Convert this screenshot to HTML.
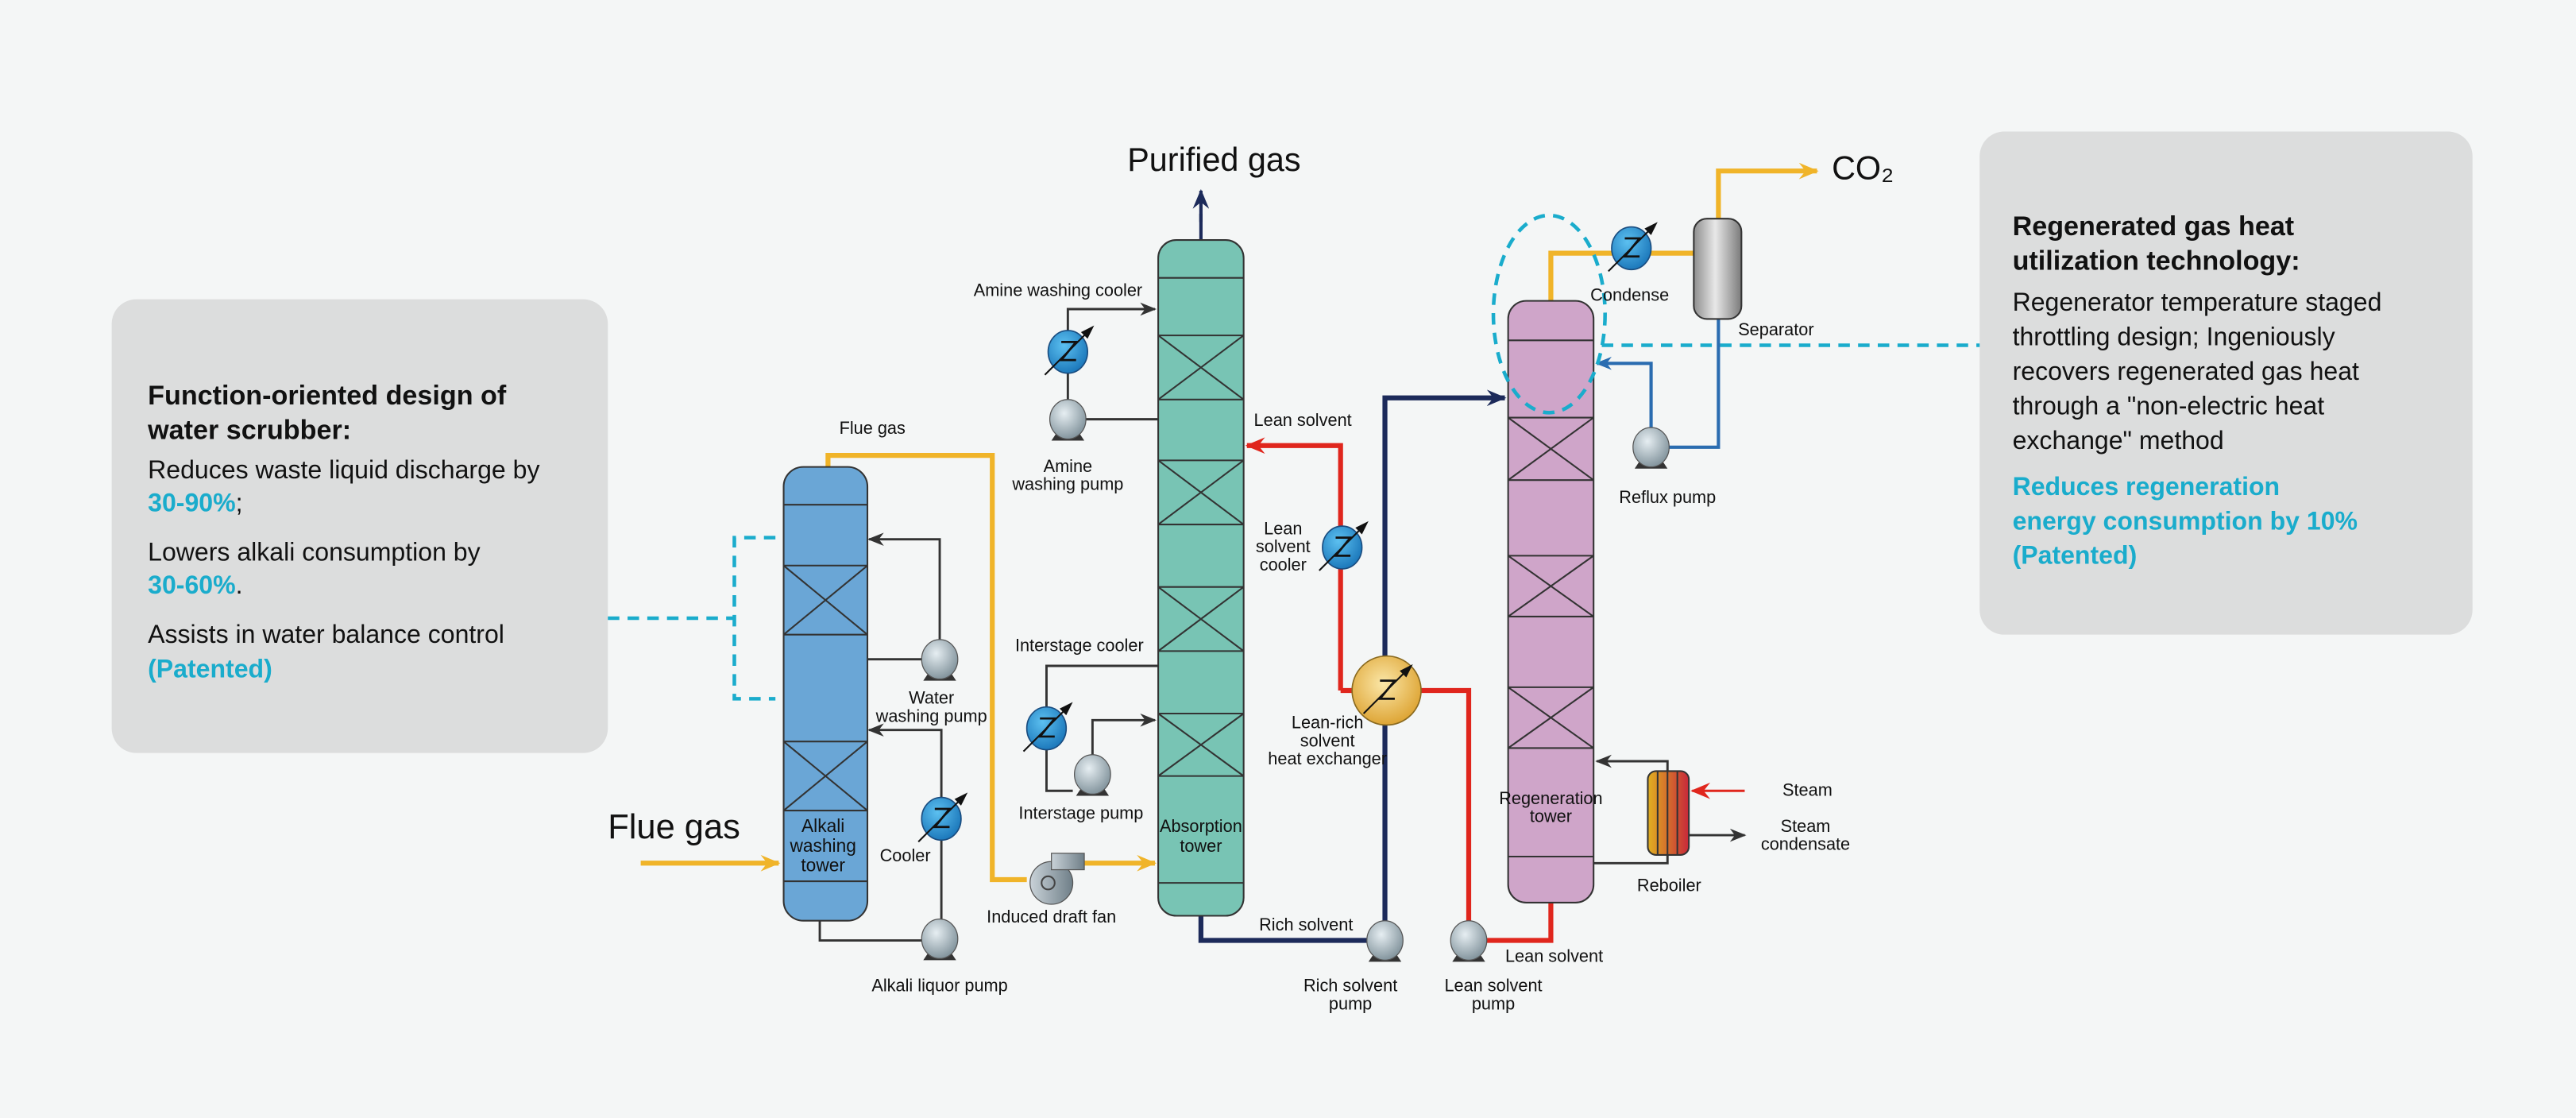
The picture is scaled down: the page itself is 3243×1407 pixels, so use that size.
<!DOCTYPE html>
<html><head><meta charset="utf-8"><style>
html,body{margin:0;padding:0;background:#f4f6f6;}
svg{display:block;}
text{font-family:"Liberation Sans",sans-serif;fill:#111;}
.s{font-size:10.5px;}
.c{text-anchor:middle;}
.bt{font-size:16.5px;font-weight:bold;}
.rt{font-size:15.5px;}
.cy{fill:#1aaccc;font-weight:bold;font-size:15.5px;}
</style></head><body>
<svg width="3243" height="1407" viewBox="0 0 1568 680" preserveAspectRatio="none" xmlns="http://www.w3.org/2000/svg">
<defs>
<radialGradient id="pg" cx="40%" cy="35%" r="70%"><stop offset="0" stop-color="#e6eef2"/><stop offset="1" stop-color="#7d8f98"/></radialGradient>
<radialGradient id="cg" cx="40%" cy="35%" r="70%"><stop offset="0" stop-color="#5cc0f0"/><stop offset="1" stop-color="#1874b8"/></radialGradient>
<radialGradient id="hg" cx="45%" cy="40%" r="70%"><stop offset="0" stop-color="#fbe7a8"/><stop offset="1" stop-color="#d99a22"/></radialGradient>
<linearGradient id="sg" x1="0" x2="1"><stop offset="0" stop-color="#8e8e8e"/><stop offset="0.45" stop-color="#e8e8e8"/><stop offset="1" stop-color="#7a7a7a"/></linearGradient>
<linearGradient id="rg" x1="0" x2="1"><stop offset="0" stop-color="#e0b020"/><stop offset="1" stop-color="#c8283a"/></linearGradient>
<linearGradient id="fg" x1="0" x2="1"><stop offset="0" stop-color="#c9d2d8"/><stop offset="1" stop-color="#6f7f88"/></linearGradient>
<marker id="ak" markerWidth="10" markerHeight="8" refX="9" refY="4" orient="auto" markerUnits="userSpaceOnUse"><path d="M0,0 L10,4 L0,8 L3,4 Z" fill="#333"/></marker>
<marker id="ay" markerWidth="12" markerHeight="10" refX="11" refY="5" orient="auto" markerUnits="userSpaceOnUse"><path d="M0,0 L12,5 L0,10 L4,5 Z" fill="#f0b429"/></marker>
<marker id="ar" markerWidth="12" markerHeight="10" refX="11" refY="5" orient="auto" markerUnits="userSpaceOnUse"><path d="M0,0 L12,5 L0,10 L4,5 Z" fill="#e0261d"/></marker>
<marker id="an" markerWidth="12" markerHeight="10" refX="11" refY="5" orient="auto" markerUnits="userSpaceOnUse"><path d="M0,0 L12,5 L0,10 L4,5 Z" fill="#1c2a5a"/></marker>
<marker id="ab" markerWidth="10" markerHeight="8" refX="9" refY="4" orient="auto" markerUnits="userSpaceOnUse"><path d="M0,0 L10,4 L0,8 L3,4 Z" fill="#2a6cb0"/></marker>
<g id="pump"><path d="M-10,13 L10,13 L6,7 L-6,7 Z" fill="#333"/><ellipse cx="0" cy="0" rx="11" ry="12" fill="url(#pg)" stroke="#555" stroke-width="0.6"/></g>
<g id="zz"><path d="M-4,-6 L5,-6 L-4,5 L5,5" fill="none" stroke="#111" stroke-width="1.3"/><line x1="-14" y1="14" x2="13" y2="-13" stroke="#111" stroke-width="1"/><path d="M16,-16 L8,-12 L12,-8 Z" fill="#111"/></g>
<g id="cool"><ellipse cx="0" cy="0" rx="12" ry="13" fill="url(#cg)" stroke="#1a4d80" stroke-width="0.8"/><use href="#zz"/></g>
</defs>
<rect width="1568" height="680" fill="#f4f6f6"/>
<rect x="68" y="182" width="302" height="276" rx="15" fill="#dcdddd"/>
<rect x="1205" y="80" width="300" height="306" rx="15" fill="#dcdddd"/>
<text x="90" y="246" class="bt">Function-oriented design of</text>
<text x="90" y="267" class="bt">water scrubber:</text>
<text x="90" y="291" class="rt">Reduces waste liquid discharge by</text>
<text x="90" y="311" class="cy">30-90%<tspan style="fill:#111;font-weight:normal">;</tspan></text>
<text x="90" y="341" class="rt">Lowers alkali consumption by</text>
<text x="90" y="361" class="cy">30-60%<tspan style="fill:#111;font-weight:normal">.</tspan></text>
<text x="90" y="391" class="rt">Assists in water balance control</text>
<text x="90" y="412" class="cy">(Patented)</text>
<text x="1225" y="143" class="bt">Regenerated gas heat</text>
<text x="1225" y="164" class="bt">utilization technology:</text>
<text x="1225" y="189" class="rt">Regenerator temperature staged</text>
<text x="1225" y="210" class="rt">throttling design; Ingeniously</text>
<text x="1225" y="231" class="rt">recovers regenerated gas heat</text>
<text x="1225" y="252" class="rt">through a "non-electric heat</text>
<text x="1225" y="273" class="rt">exchange" method</text>
<text x="1225" y="301" class="cy">Reduces regeneration</text>
<text x="1225" y="322" class="cy">energy consumption by 10%</text>
<text x="1225" y="343" class="cy">(Patented)</text>
<g stroke="#1aaccc" stroke-width="2.2" fill="none" stroke-dasharray="7,5">
<path d="M370,376 L447,376"/><path d="M472,327 L447,327 L447,425 L472,425"/>
<path d="M975,210 L1205,210"/>
</g>
<g fill="none" stroke-width="3">
<path d="M390,525 L474,525" stroke="#f0b429" marker-end="url(#ay)"/>
<path d="M504,284 L504,277 L604,277 L604,535 L625,535" stroke="#f0b429"/>
<path d="M660,525 L703,525" stroke="#f0b429" marker-end="url(#ay)"/>
<path d="M944,183 L944,154 L1031,154" stroke="#f0b429"/>
<path d="M1046,133 L1046,104 L1106,104" stroke="#f0b429" marker-end="url(#ay)"/>
<path d="M731,135 L731,116" stroke="#1c2a5a" stroke-width="2" marker-end="url(#an)"/>
<path d="M731,146 L731,130" stroke="#1c2a5a" stroke-width="2"/>
<path d="M731,557 L731,572 L832,572" stroke="#1c2a5a"/>
<path d="M843,560 L843,242 L916,242" stroke="#1c2a5a" marker-end="url(#an)"/>
<path d="M816,420 L816,271 L759,271" stroke="#e0261d" marker-end="url(#ar)"/>
<path d="M816,420 L830,420 M858,420 L894,420 L894,560" stroke="#e0261d"/>
<path d="M905,572 L944,572 L944,549" stroke="#e0261d"/>
<path d="M1062,481 L1030,481" stroke="#e0261d" stroke-width="1.5" marker-end="url(#ar)"/>
<path d="M1046,194 L1046,272 L1016,272" stroke="#2a6cb0" stroke-width="2"/>
<path d="M1005,261 L1005,221 L972,221" stroke="#2a6cb0" stroke-width="2" marker-end="url(#ab)"/>
</g>
<g fill="none" stroke="#333" stroke-width="1.4">
<path d="M572,389 L572,328 L529,328" marker-end="url(#ak)"/>
<path d="M527,401 L561,401"/>
<path d="M573,485 L573,444 L529,444" marker-end="url(#ak)"/>
<path d="M573,511 L573,560"/>
<path d="M499,559 L499,572 L561,572"/>
<path d="M650,201 L650,188 L703,188" marker-end="url(#ak)"/>
<path d="M650,227 L650,243"/>
<path d="M661,255 L705,255"/>
<path d="M705,405 L637,405 L637,430"/>
<path d="M637,456 L637,481 L653,481"/>
<path d="M665,469 L665,438 L703,438" marker-end="url(#ak)"/>
<path d="M1015,469 L1015,463 L972,463" marker-end="url(#ak)"/>
<path d="M1015,520 L1015,525 L970,525"/>
<path d="M1028,508 L1062,508" marker-end="url(#ak)"/>
</g>
<g stroke="#333" stroke-width="1">
<rect x="477" y="284" width="51" height="276" rx="12" fill="#6aa6d6"/>
<rect x="705" y="146" width="52" height="411" rx="11" fill="#78c4b4"/>
<rect x="918" y="183" width="52" height="366" rx="11" fill="#cfa5c9"/>
<rect x="1031" y="133" width="29" height="61" rx="8" fill="url(#sg)"/>
<rect x="1003" y="469" width="25" height="51" rx="5" fill="url(#rg)"/>
<path d="M1009,469 V520 M1015,469 V520 M1021,469 V520" fill="none"/>
<path d="M477,307H528M477,344H528M477,386H528M477,451H528M477,493H528M477,536H528M477,344L528,386M528,344L477,386M477,451L528,493M528,451L477,493" fill="none"/>
<path d="M705,169H757M705,204H757M705,243H757M705,280H757M705,319H757M705,357H757M705,396H757M705,434H757M705,472H757M705,537H757M705,204L757,243M757,204L705,243M705,280L757,319M757,280L705,319M705,357L757,396M757,357L705,396M705,434L757,472M757,434L705,472" fill="none"/>
<path d="M918,207H970M918,254H970M918,292H970M918,338H970M918,375H970M918,418H970M918,455H970M918,521H970M918,254L970,292M970,254L918,292M918,338L970,375M970,338L918,375M918,418L970,455M970,418L918,455" fill="none"/>
</g>
<ellipse cx="943" cy="191" rx="34" ry="60" stroke="#1aaccc" stroke-width="2.2" fill="none" stroke-dasharray="7,5"/>
<g><circle cx="640" cy="537" r="13" fill="url(#fg)" stroke="#555" stroke-width="0.6"/><rect x="640" y="519" width="20" height="10" fill="url(#fg)" stroke="#555" stroke-width="0.6"/><circle cx="638" cy="537" r="4" fill="none" stroke="#444"/></g>
<use href="#pump" x="572" y="401"/><use href="#pump" x="572" y="571"/>
<use href="#pump" x="650" y="255"/><use href="#pump" x="665" y="471"/>
<use href="#pump" x="843" y="572"/><use href="#pump" x="894" y="572"/>
<use href="#pump" x="1005" y="272"/>
<use href="#cool" x="573" y="498"/><use href="#cool" x="650" y="214"/>
<use href="#cool" x="637" y="443"/><use href="#cool" x="817" y="333"/>
<use href="#cool" x="993" y="151"/>
<g><circle cx="844" cy="420" r="21" fill="url(#hg)" stroke="#8a6a20" stroke-width="0.8"/><use href="#zz" x="844" y="420"/></g>
<text x="739" y="104" class="c" style="font-size:20px">Purified gas</text>
<text x="1115" y="109" style="font-size:20px">CO₂</text>
<text x="370" y="510" style="font-size:21px">Flue gas</text>
<text x="531" y="264" class="s c">Flue gas</text>
<text x="501" y="506" class="s c" style="font-size:11px">Alkali</text>
<text x="501" y="518" class="s c" style="font-size:11px">washing</text>
<text x="501" y="530" class="s c" style="font-size:11px">tower</text>
<text x="567" y="428" class="s c">Water</text>
<text x="567" y="439" class="s c">washing pump</text>
<text x="551" y="524" class="s c">Cooler</text>
<text x="572" y="603" class="s c">Alkali liquor pump</text>
<text x="640" y="561" class="s c">Induced draft fan</text>
<text x="644" y="180" class="s c">Amine washing cooler</text>
<text x="650" y="287" class="s c">Amine</text>
<text x="650" y="298" class="s c">washing pump</text>
<text x="657" y="396" class="s c">Interstage cooler</text>
<text x="658" y="498" class="s c">Interstage pump</text>
<text x="731" y="506" class="s c">Absorption</text>
<text x="731" y="518" class="s c">tower</text>
<text x="793" y="259" class="s c">Lean solvent</text>
<text x="781" y="325" class="s c">Lean</text>
<text x="781" y="336" class="s c">solvent</text>
<text x="781" y="347" class="s c">cooler</text>
<text x="808" y="443" class="s c">Lean-rich</text>
<text x="808" y="454" class="s c">solvent</text>
<text x="808" y="465" class="s c">heat exchanger</text>
<text x="795" y="566" class="s c">Rich solvent</text>
<text x="822" y="603" class="s c">Rich solvent</text>
<text x="822" y="614" class="s c">pump</text>
<text x="909" y="603" class="s c">Lean solvent</text>
<text x="909" y="614" class="s c">pump</text>
<text x="946" y="585" class="s c">Lean solvent</text>
<text x="944" y="489" class="s c">Regeneration</text>
<text x="944" y="500" class="s c">tower</text>
<text x="992" y="183" class="s c">Condense</text>
<text x="1058" y="204" class="s">Separator</text>
<text x="1015" y="306" class="s c">Reflux pump</text>
<text x="1085" y="484" class="s">Steam</text>
<text x="1099" y="506" class="s c">Steam</text>
<text x="1099" y="517" class="s c">condensate</text>
<text x="1016" y="542" class="s c">Reboiler</text>
</svg>
</body></html>
